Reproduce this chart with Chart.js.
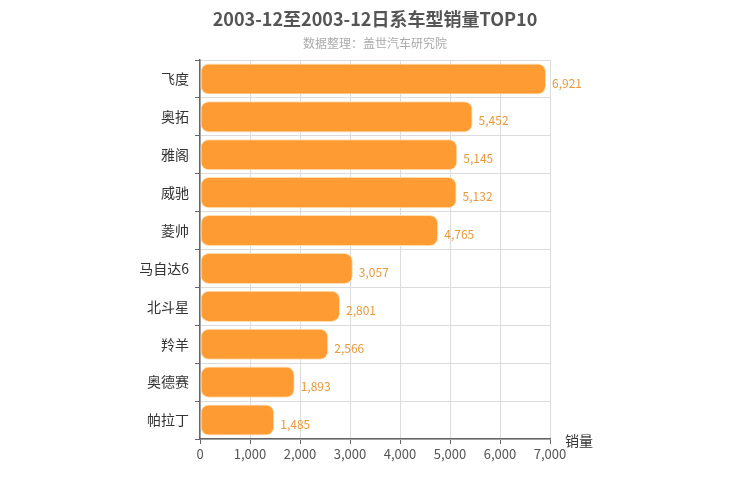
<!DOCTYPE html>
<html><head><meta charset="utf-8">
<script src="https://cdn.jsdelivr.net/npm/chart.js@4/dist/chart.umd.min.js"></script>
<style>html,body{margin:0;padding:0;background:#fff;}#wrap{width:750px;height:500px;}</style>
</head><body><div id="wrap"><canvas id="c" width="750" height="500"></canvas></div>
<script>
const categories = ['飞度','奥拓','雅阁','威驰','菱帅','马自达6','北斗星','羚羊','奥德赛','帕拉丁'];
const sales = [6921,5452,5145,5132,4765,3057,2801,2566,1893,1485];
const xTicks = [0,1000,2000,3000,4000,5000,6000,7000];
const titleText = '2003-12至2003-12日系车型销量TOP10';
const subtitleText = '数据整理：盖世汽车研究院';
const axisTitle = '销量';
const FONT = '"Noto Sans CJK SC","Noto Sans",sans-serif';

const deco = {
  id:'deco',
  afterDatasetsDraw(chart){
    const ctx = chart.ctx;
    const meta = chart.getDatasetMeta(0);
    ctx.save();
    ctx.font = '12px ' + FONT;
    ctx.fillStyle = '#e8993a';
    ctx.textAlign = 'left'; ctx.textBaseline = 'middle';
    meta.data.forEach((b,i)=>{
      ctx.fillText(sales[i].toLocaleString('en-US'), b.x + 6, b.y + 4);
    });
    ctx.restore();
  },
  afterDraw(chart){
    const ctx = chart.ctx;
    ctx.save();
    ctx.textAlign='center'; ctx.textBaseline='middle';
    ctx.font = 'bold 18px ' + FONT;
    ctx.fillStyle = '#555';
    ctx.fillText(titleText, 375, 19);
    ctx.font = '12px ' + FONT;
    ctx.fillStyle = '#aaa';
    ctx.fillText(subtitleText, 375, 43);
    ctx.font = '14px ' + FONT;
    ctx.fillStyle = '#333';
    ctx.textAlign='left';
    ctx.fillText(axisTitle, 565, 441);
    ctx.restore();
  }
};

new Chart(document.getElementById('c'), {
  type:'bar',
  data:{labels:categories, datasets:[{data:sales, backgroundColor:'#ff9b33', borderColor:'rgba(255,220,170,0.9)', borderWidth:1, borderRadius:8, borderSkipped:false, categoryPercentage:0.82, barPercentage:1}]},
  options:{
    indexAxis:'y', responsive:false, animation:false,
    layout:{padding:{top:60,right:200,left:0,bottom:0}},
    plugins:{legend:{display:false}, tooltip:{enabled:false}, title:{display:false}},
    scales:{
      x:{min:0,max:7000,
        afterBuildTicks(s){ s.ticks = xTicks.map(v=>({value:v})); },
        afterFit(s){ s.height = 61; },
        grid:{color:'#dcdcdc', tickLength:5, tickColor:'#666'},
        border:{color:'#666', width:1.5},
        ticks:{color:'#555', font:{size:13, family:FONT}, padding:2, callback:v=>v.toLocaleString('en-US')}
      },
      y:{
        afterFit(s){ s.width = 200; },
        grid:{color:'#dcdcdc', tickLength:5, tickColor:'#666', offset:true},
        border:{color:'#666', width:1.5},
        ticks:{color:'#333', font:{size:14, family:FONT}, padding:6}
      }
    }
  },
  plugins:[deco]
});
</script></body></html>
